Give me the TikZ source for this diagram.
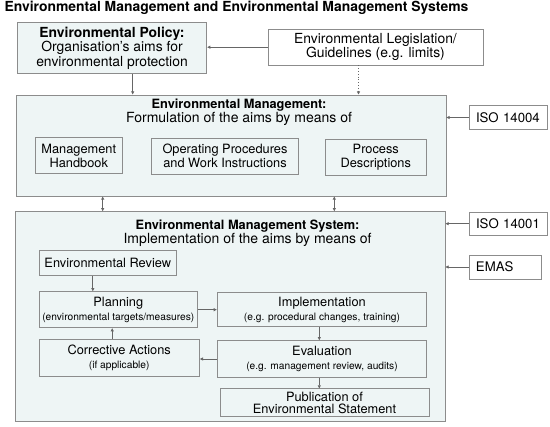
\documentclass[tikz,border=0pt]{standalone}
\usepackage{fontspec}
\setmainfont{TeX Gyre Heros}
\usepackage{xcolor}
\usepackage{tikz}
\usetikzlibrary{arrows.meta}
\definecolor{envFill}{HTML}{EEF5F5}
\definecolor{envBorder}{HTML}{8C8C8C}
\definecolor{envArrow}{HTML}{666666}

\begin{document}
\begin{tikzpicture}[x=1pt,y=-1pt,
                box/.style={draw=envBorder, fill=envFill, line width=0.9pt, inner sep=0pt, align=center},
                sidebox/.style={draw=envBorder, fill=white, line width=0.9pt, inner xsep=7pt, inner ysep=0pt, align=left, font=\fontsize{13.2}{14}\selectfont},
                big/.style={font=\fontsize{13.9}{14.5}\selectfont},
                mid/.style={font=\fontsize{12.8}{14}\selectfont},
                link/.style={draw=envArrow, line width=0.8pt, -{Triangle[length=3.2pt,width=3pt]}},
                dlink/.style={link, {Triangle[length=3.2pt,width=3pt]}-{Triangle[length=3.2pt,width=3pt]}}]
                \useasboundingbox (0,0) rectangle (550,427);

                \node[anchor=west, font=\fontsize{13.9}{14}\selectfont\bfseries] (title) at (1,7.5) {Environmental Management and Environmental Management Systems};

                \node[box, big, minimum width=189.4pt, minimum height=50.6pt] (policy) at (112,48) {\textbf{Environmental Policy:}\\Organisation's aims for\\environmental protection};
                \node[box, big, fill=white, minimum width=215pt, minimum height=35.7pt] (legis) at (375.5,47.2) {Environmental Legislation/\\Guidelines (e.g. limits)};

                \node[box, minimum width=429.3pt, minimum height=101pt] (emBox) at (231.3,145.5) {};
                \node[align=center, inner sep=0pt] (emHead) at (239,111.8) {{\fontsize{12.8}{13}\selectfont\bfseries Environmental Management:}\\\fontsize{14}{13}\selectfont Formulation of the aims by means of};
                \node[box, mid, minimum width=86.3pt, minimum height=35.6pt] (handbook) at (78.8,155.5) {Management\\Handbook};
                \node[box, mid, minimum width=146.6pt, minimum height=35.7pt] (opProc) at (225,156.2) {Operating Procedures\\and Work Instructions};
                \node[box, mid, minimum width=101.7pt, minimum height=35.7pt] (procDesc) at (375.8,157.2) {Process\\Descriptions};
                \node[sidebox, text width=64pt, minimum height=23.6pt] (isoFour) at (508,117.5) {ISO 14004};

                \node[box, minimum width=430pt, minimum height=210pt] (emsBox) at (230,316.7) {};
                \node[align=center, inner sep=0pt] (emsHead) at (247.6,232.8) {{\fontsize{12.8}{13}\selectfont\bfseries Environmental Management System:}\\\fontsize{14}{14.3}\selectfont Implementation of the aims by means of};
                \node[sidebox, text width=64.3pt, minimum height=22.7pt] (isoOne) at (508.2,223.7) {ISO 14001};
                \node[sidebox, text width=58.7pt, minimum height=24pt] (emas) at (505.3,267) {EMAS};

                \node[box, mid, minimum width=137.7pt, minimum height=25pt] (review) at (107.8,263.2) {Environmental Review};
                \node[box, mid, minimum width=158.7pt, minimum height=36pt] (planning) at (118.3,309.7) {Planning\\\fontsize{10.2}{12.5}\selectfont(environmental targets/measures)};
                \node[box, mid, minimum width=209.4pt, minimum height=34pt] (implem) at (322,309.7) {Implementation\\\fontsize{10.2}{13}\selectfont(e.g. procedural changes, training)};
                \node[box, mid, minimum width=160.3pt, minimum height=37.4pt] (corrective) at (119.2,358) {Corrective Actions\\\fontsize{10.2}{12}\selectfont(if applicable)};
                \node[box, mid, minimum width=209.4pt, minimum height=36.6pt] (evaluation) at (322,359) {Evaluation\\\fontsize{10.2}{12.5}\selectfont(e.g. management review, audits)};
                \node[box, font=\fontsize{12.8}{11.6}\selectfont, minimum width=209pt, minimum height=27.7pt] (publication) at (324.5,402.8) {Publication of\\Environmental Statement};

                \draw[link] (legis.west) -- (legis.west -| policy.east);
                \draw[link] ([xshift=20.7pt]policy.south) -- ([xshift=20.7pt]policy.south |- emBox.north);
                \draw[link, dotted] ([xshift=-17pt]legis.south) -- ([xshift=-17pt]legis.south |- emBox.north);
                \draw[link] (isoFour.west) -- (isoFour.west -| emBox.east);
                \draw[dlink] ([xshift=-128.6pt]emBox.south) -- ([xshift=-128.6pt]emBox.south |- emsBox.north);
                \draw[dlink] ([xshift=103pt]emBox.south) -- ([xshift=103pt]emBox.south |- emsBox.north);
                \draw[link] (isoOne.west) -- (isoOne.west -| emsBox.east);
                \draw[link] (emas.west) -- (emas.west -| emsBox.east);
                \draw[link] ([xshift=-15pt]review.south) -- ([xshift=-15pt]review.south |- planning.north);
                \draw[link] (planning.east) -- (planning.east -| implem.west);
                \draw[link] ([xshift=-2.7pt]implem.south) -- ([xshift=-2.7pt]implem.south |- evaluation.north);
                \draw[link] (evaluation.west) -- (evaluation.west -| corrective.east);
                \draw[link] ([xshift=-7pt]corrective.north) -- ([xshift=-7pt]corrective.north |- planning.south);
                \draw[link] ([xshift=-2.7pt]evaluation.south) -- ([xshift=-2.7pt]evaluation.south |- publication.north);
            \end{tikzpicture}
\end{document}
